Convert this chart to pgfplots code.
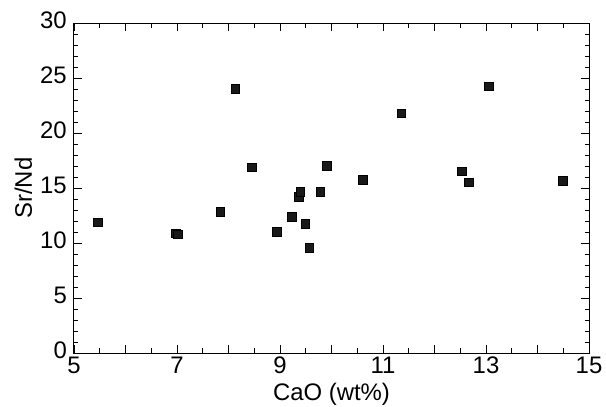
\documentclass[border=0pt]{standalone}
\usepackage{pgfplots}
\pgfplotsset{compat=1.18}
\usepackage{fontspec}
\setmainfont{Liberation Sans}
\begin{document}
\begin{tikzpicture}
\begin{axis}[
  scale only axis,
  width=515bp, height=330bp,
  xmin=5, xmax=15, ymin=0, ymax=30,
  xtick={5,6,...,15},
  xticklabels={5,,7,,9,,11,,13,,15},
  ytick={0,5,...,30},
  minor x tick num=1,
  minor y tick num=4,
  tick align=inside,
  major tick length=8bp,
  minor tick length=4.5bp,
  tick style={line width=0.9bp, black},
  axis line style={line width=1bp},
  every tick label/.append style={font=\fontsize{24}{28}\selectfont, inner sep=3bp},
  /pgf/number format/assume math mode=true,
  xlabel={CaO (wt\%)},
  ylabel={Sr/Nd},
  label style={font=\fontsize{24}{28}\selectfont, inner sep=1bp},
  xlabel style={yshift=-5bp},
  ylabel style={yshift=4bp},
  xticklabel style={yshift=-1bp},
  yticklabel style={xshift=-4bp, yshift=2.5bp},
]
\addplot[only marks, mark=square*, mark size=4.3bp, black, mark options={fill=black!90, line width=0.4bp}] coordinates {
(5.46,11.88)
(6.98,10.90)
(7.01,10.80)
(7.84,12.86)
(8.13,24.02)
(8.45,16.89)
(8.94,11.04)
(9.23,12.40)
(9.36,14.22)
(9.39,14.68)
(9.49,11.74)
(9.57,9.55)
(9.78,14.68)
(9.91,17.02)
(10.61,15.77)
(11.35,21.80)
(12.53,16.53)
(12.66,15.53)
(13.05,24.26)
(14.49,15.68)
};
\end{axis}
\pgfresetboundingbox
\path ([xshift=-74bp,yshift=-54bp]current axis.south west) rectangle ([xshift=17bp,yshift=23bp]current axis.north east);
\end{tikzpicture}
\end{document}
